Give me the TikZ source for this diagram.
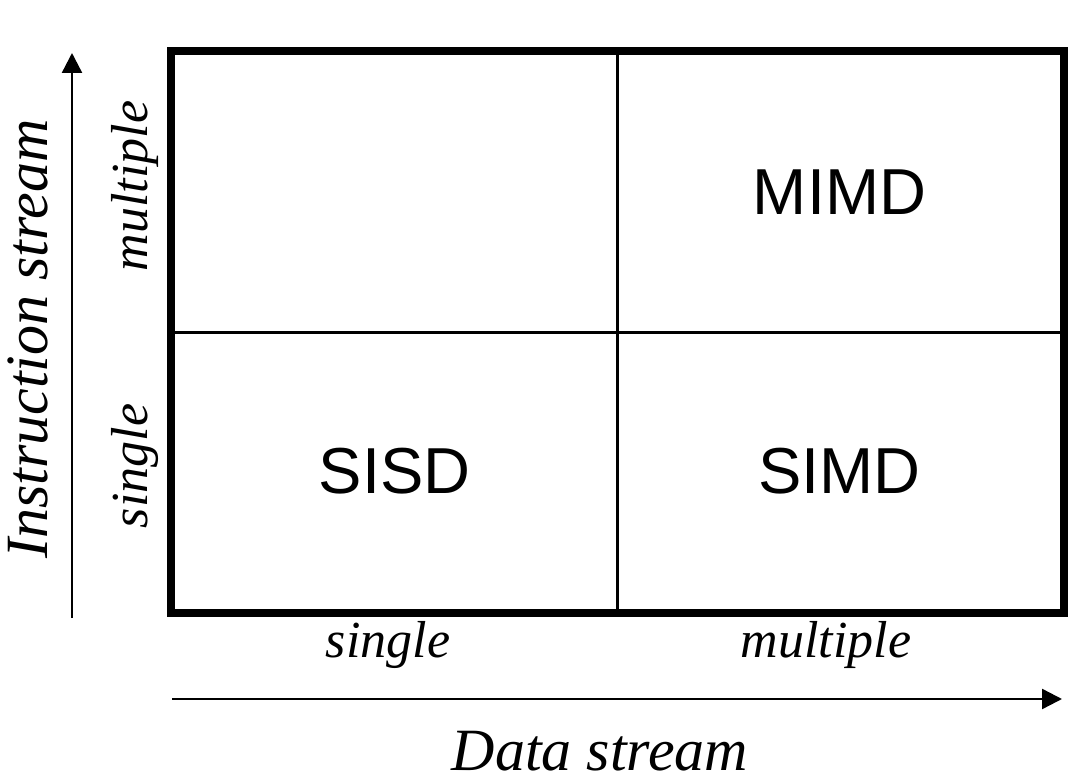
\documentclass[tikz,border=0pt]{standalone}
\usepackage{fontspec}
\setmainfont{Liberation Serif}
\setsansfont{Liberation Sans}
\usetikzlibrary{positioning,arrows.meta,calc}

\begin{document}
\begin{tikzpicture}[x=0.5pt, y=-0.5pt,
    cell/.style={draw, line width=1.5pt, minimum width=222.5pt, minimum height=139.5pt, inner sep=0, font=\fontsize{32.5}{36}\sffamily},
    lbl/.style={anchor=base, font=\fontsize{26}{30}\itshape},
    axis/.style={anchor=base, font=\fontsize{30}{34}\itshape},
    axarrow/.style={-{Triangle[length=10pt,width=10pt]}, line width=1.2pt}]
    \useasboundingbox (0,0) rectangle (1083,781);
    \node[cell] (misd) at (394.5,192.5) {};
    \node[cell] (mimd) at (839.5,192.5) {MIMD};
    \node[cell] (sisd) at (394.5,471.5) {SISD};
    \node[cell] (simd) at (839.5,471.5) {SIMD};
    \draw[line width=4pt] (misd.north west) rectangle (simd.south east);
    % axes
    \coordinate (ilow) at (72,618); \coordinate (ihigh) at (72,53);
    \coordinate (dlow) at (172,699); \coordinate (dhigh) at (1062,699);
    \draw[axarrow] (ilow) -- (ihigh);
    \draw[axarrow] (dlow) -- (dhigh);
    \node[lbl, rotate=90] (ims) at (147,186) {multiple};
    \node[lbl, rotate=90] (iss) at (147,466) {single};
    \node[lbl] (dss) at (388,657) {single};
    \node[lbl] (dms) at (826,657) {multiple};
    \node[axis, rotate=90] (inst) at (47,339) {Instruction stream};
    \node[axis] (data) at (600,770) {Data stream};
  \end{tikzpicture}
\end{document}
